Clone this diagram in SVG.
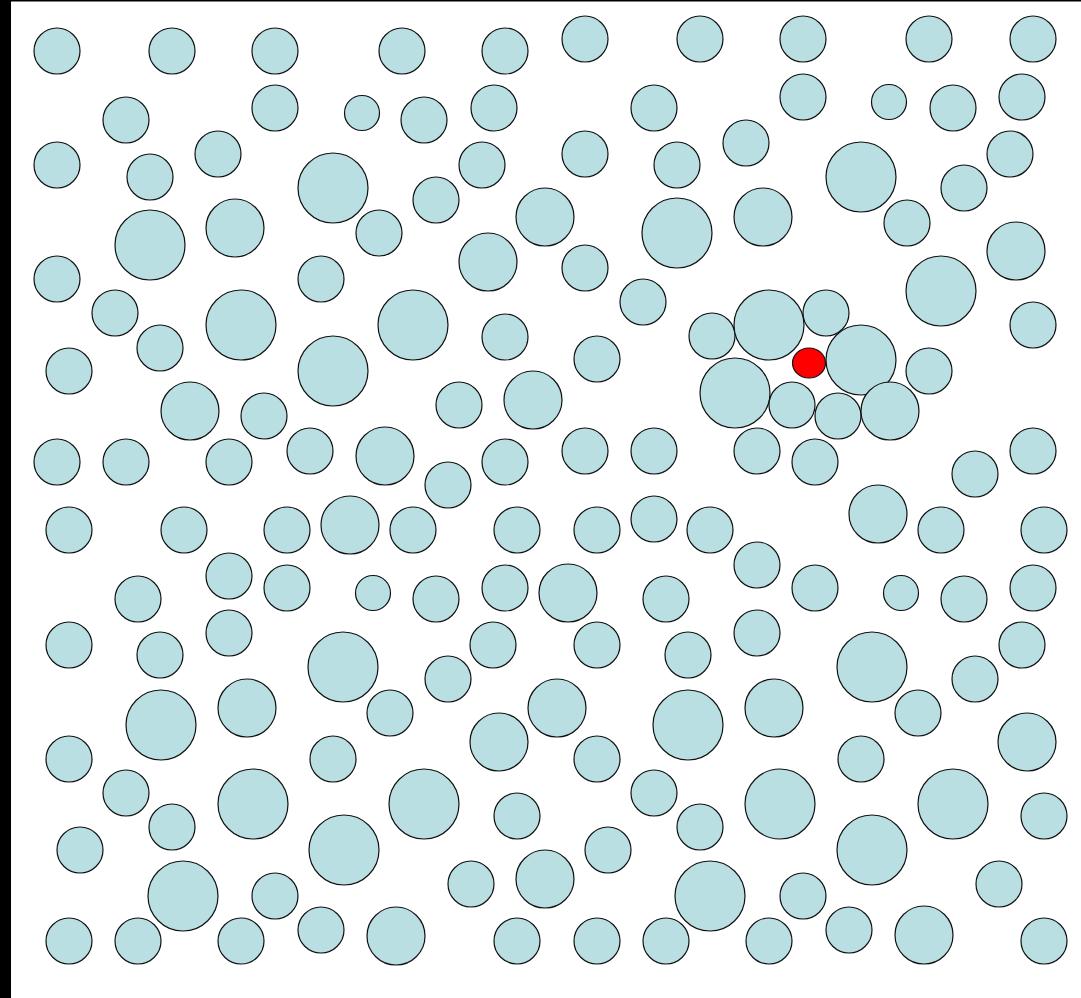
<svg xmlns="http://www.w3.org/2000/svg" width="1081" height="998" viewBox="0 0 1081 998">
<style>
.c{fill:#b9dfe3;stroke:#111;stroke-width:1.2}
.r{fill:#ff0000;stroke:#111;stroke-width:1.2}
</style>
<rect x="0" y="0" width="1081" height="998" fill="#000"/>
<rect x="11" y="1.5" width="1070" height="996.5" fill="#fff"/>
<g id="circles">
<circle class="c" cx="57" cy="51" r="23"/>
<circle class="c" cx="172" cy="51" r="23"/>
<circle class="c" cx="275" cy="51" r="23"/>
<circle class="c" cx="402" cy="51" r="23"/>
<circle class="c" cx="505" cy="51" r="23"/>
<circle class="c" cx="585" cy="39" r="23"/>
<circle class="c" cx="700" cy="39" r="23"/>
<circle class="c" cx="803" cy="39" r="23"/>
<circle class="c" cx="929" cy="39" r="23"/>
<circle class="c" cx="1033" cy="39" r="23"/>

<circle class="c" cx="126" cy="120" r="23"/>
<circle class="c" cx="275" cy="108" r="23"/>
<circle class="c" cx="362" cy="113" r="17.5"/>
<circle class="c" cx="424" cy="120" r="23"/>
<circle class="c" cx="494" cy="108" r="23"/>
<circle class="c" cx="654" cy="108" r="23"/>
<circle class="c" cx="803" cy="97" r="23"/>
<circle class="c" cx="889" cy="102" r="17.5"/>
<circle class="c" cx="953" cy="108" r="23"/>
<circle class="c" cx="1022" cy="97" r="23"/>
<circle class="c" cx="746" cy="143" r="23"/>

<circle class="c" cx="57" cy="165" r="23"/>
<circle class="c" cx="150" cy="177" r="23"/>
<circle class="c" cx="218" cy="154" r="23"/>
<circle class="c" cx="333" cy="188" r="35"/>
<circle class="c" cx="436" cy="200" r="23"/>
<circle class="c" cx="482" cy="165" r="23"/>
<circle class="c" cx="585" cy="154" r="23"/>
<circle class="c" cx="677" cy="165" r="23"/>
<circle class="c" cx="861" cy="177" r="35"/>
<circle class="c" cx="964" cy="188" r="23"/>
<circle class="c" cx="1010" cy="154" r="23"/>

<circle class="c" cx="150" cy="245" r="35"/>
<circle class="c" cx="235" cy="228" r="29"/>
<circle class="c" cx="379" cy="233" r="23"/>
<circle class="c" cx="545" cy="217" r="29"/>
<circle class="c" cx="677" cy="233" r="35"/>
<circle class="c" cx="763" cy="217" r="29"/>
<circle class="c" cx="907" cy="223" r="23"/>
<circle class="c" cx="1016" cy="251" r="29"/>

<circle class="c" cx="57" cy="279" r="23"/>
<circle class="c" cx="321" cy="279" r="23"/>
<circle class="c" cx="488" cy="262" r="29"/>
<circle class="c" cx="585" cy="268" r="23"/>
<circle class="c" cx="643" cy="302" r="23"/>
<circle class="c" cx="941" cy="291" r="35"/>

<circle class="c" cx="115" cy="313" r="23"/>
<circle class="c" cx="241" cy="325" r="35"/>
<circle class="c" cx="413" cy="325" r="35"/>
<circle class="c" cx="505" cy="337" r="23"/>
<circle class="c" cx="712" cy="336" r="23"/>
<circle class="c" cx="769" cy="325" r="35"/>
<circle class="c" cx="826" cy="313" r="23"/>
<circle class="c" cx="1033" cy="325" r="23"/>

<circle class="c" cx="69" cy="371" r="23"/>
<circle class="c" cx="160" cy="348" r="23"/>
<circle class="c" cx="333" cy="371" r="35"/>
<circle class="c" cx="597" cy="359" r="23"/>
<circle class="c" cx="861" cy="360" r="35"/>
<circle class="c" cx="929" cy="371" r="23"/>

<circle class="c" cx="190" cy="411" r="29"/>
<circle class="c" cx="264" cy="416" r="23"/>
<circle class="c" cx="459" cy="405" r="23"/>
<circle class="c" cx="533" cy="400" r="29"/>
<circle class="c" cx="735" cy="393" r="35"/>
<circle class="c" cx="792" cy="405" r="23"/>
<circle class="c" cx="838" cy="416" r="23"/>
<circle class="c" cx="890" cy="411" r="29"/>

<circle class="c" cx="57" cy="462" r="23"/>
<circle class="c" cx="126" cy="462" r="23"/>
<circle class="c" cx="229" cy="462" r="23"/>
<circle class="c" cx="310" cy="451" r="23"/>
<circle class="c" cx="385" cy="456" r="29"/>
<circle class="c" cx="448" cy="485" r="23"/>
<circle class="c" cx="505" cy="462" r="23"/>
<circle class="c" cx="585" cy="451" r="23"/>
<circle class="c" cx="654" cy="451" r="23"/>
<circle class="c" cx="757" cy="451" r="23"/>
<circle class="c" cx="815" cy="462" r="23"/>
<circle class="c" cx="975" cy="474" r="23"/>
<circle class="c" cx="1033" cy="451" r="23"/>

<circle class="c" cx="69" cy="530" r="23"/>
<circle class="c" cx="184" cy="530" r="23"/>
<circle class="c" cx="287" cy="530" r="23"/>
<circle class="c" cx="350" cy="525" r="29"/>
<circle class="c" cx="413" cy="530" r="23"/>
<circle class="c" cx="517" cy="530" r="23"/>
<circle class="c" cx="597" cy="530" r="23"/>
<circle class="c" cx="654" cy="519" r="23"/>
<circle class="c" cx="710" cy="530" r="23"/>
<circle class="c" cx="878" cy="514" r="29"/>
<circle class="c" cx="941" cy="530" r="23"/>
<circle class="c" cx="1044" cy="530" r="23"/>

<circle class="c" cx="229" cy="576" r="23"/>
<circle class="c" cx="138" cy="599" r="23"/>
<circle class="c" cx="287" cy="588" r="23"/>
<circle class="c" cx="373" cy="593" r="17.5"/>
<circle class="c" cx="436" cy="599" r="23"/>
<circle class="c" cx="505" cy="588" r="23"/>
<circle class="c" cx="568" cy="593" r="29"/>
<circle class="c" cx="666" cy="599" r="23"/>
<circle class="c" cx="757" cy="565" r="23"/>
<circle class="c" cx="815" cy="588" r="23"/>
<circle class="c" cx="901" cy="593" r="17.5"/>
<circle class="c" cx="964" cy="599" r="23"/>
<circle class="c" cx="1033" cy="588" r="23"/>

<circle class="c" cx="69" cy="645" r="23"/>
<circle class="c" cx="160" cy="655" r="23"/>
<circle class="c" cx="229" cy="633" r="23"/>
<circle class="c" cx="343" cy="667" r="35"/>
<circle class="c" cx="448" cy="679" r="23"/>
<circle class="c" cx="493" cy="645" r="23"/>
<circle class="c" cx="597" cy="645" r="23"/>
<circle class="c" cx="688" cy="655" r="23"/>
<circle class="c" cx="757" cy="633" r="23"/>
<circle class="c" cx="872" cy="667" r="35"/>
<circle class="c" cx="975" cy="679" r="23"/>
<circle class="c" cx="1022" cy="645" r="23"/>

<circle class="c" cx="161" cy="725" r="35"/>
<circle class="c" cx="247" cy="708" r="29"/>
<circle class="c" cx="390" cy="713" r="23"/>
<circle class="c" cx="557" cy="708" r="29"/>
<circle class="c" cx="499" cy="742" r="29"/>
<circle class="c" cx="688" cy="725" r="35"/>
<circle class="c" cx="774" cy="708" r="29"/>
<circle class="c" cx="918" cy="713" r="23"/>
<circle class="c" cx="1027" cy="742" r="29"/>

<circle class="c" cx="69" cy="759" r="23"/>
<circle class="c" cx="333" cy="759" r="23"/>
<circle class="c" cx="126" cy="793" r="23"/>
<circle class="c" cx="597" cy="759" r="23"/>
<circle class="c" cx="654" cy="793" r="23"/>
<circle class="c" cx="861" cy="759" r="23"/>

<circle class="c" cx="172" cy="827" r="23"/>
<circle class="c" cx="253" cy="804" r="35"/>
<circle class="c" cx="424" cy="804" r="35"/>
<circle class="c" cx="517" cy="816" r="23"/>
<circle class="c" cx="700" cy="827" r="23"/>
<circle class="c" cx="780" cy="804" r="35"/>
<circle class="c" cx="953" cy="804" r="35"/>
<circle class="c" cx="1044" cy="816" r="23"/>
<circle class="c" cx="80" cy="850" r="23"/>
<circle class="c" cx="344" cy="850" r="35"/>
<circle class="c" cx="608" cy="850" r="23"/>
<circle class="c" cx="872" cy="850" r="35"/>

<circle class="c" cx="183" cy="896" r="35"/>
<circle class="c" cx="275" cy="896" r="23"/>
<circle class="c" cx="471" cy="884" r="23"/>
<circle class="c" cx="545" cy="879" r="29"/>
<circle class="c" cx="710" cy="896" r="35"/>
<circle class="c" cx="803" cy="896" r="23"/>
<circle class="c" cx="999" cy="884" r="23"/>

<circle class="c" cx="69" cy="941" r="23"/>
<circle class="c" cx="138" cy="941" r="23"/>
<circle class="c" cx="241" cy="941" r="23"/>
<circle class="c" cx="321" cy="930" r="23"/>
<circle class="c" cx="396" cy="936" r="29"/>
<circle class="c" cx="517" cy="941" r="23"/>
<circle class="c" cx="597" cy="941" r="23"/>
<circle class="c" cx="666" cy="941" r="23"/>
<circle class="c" cx="769" cy="941" r="23"/>
<circle class="c" cx="849" cy="930" r="23"/>
<circle class="c" cx="924" cy="935" r="29"/>
<circle class="c" cx="1044" cy="941" r="23"/>
</g>
<g id="red">
<ellipse class="r" cx="809" cy="363" rx="16.5" ry="15"/>
</g>
</svg>
